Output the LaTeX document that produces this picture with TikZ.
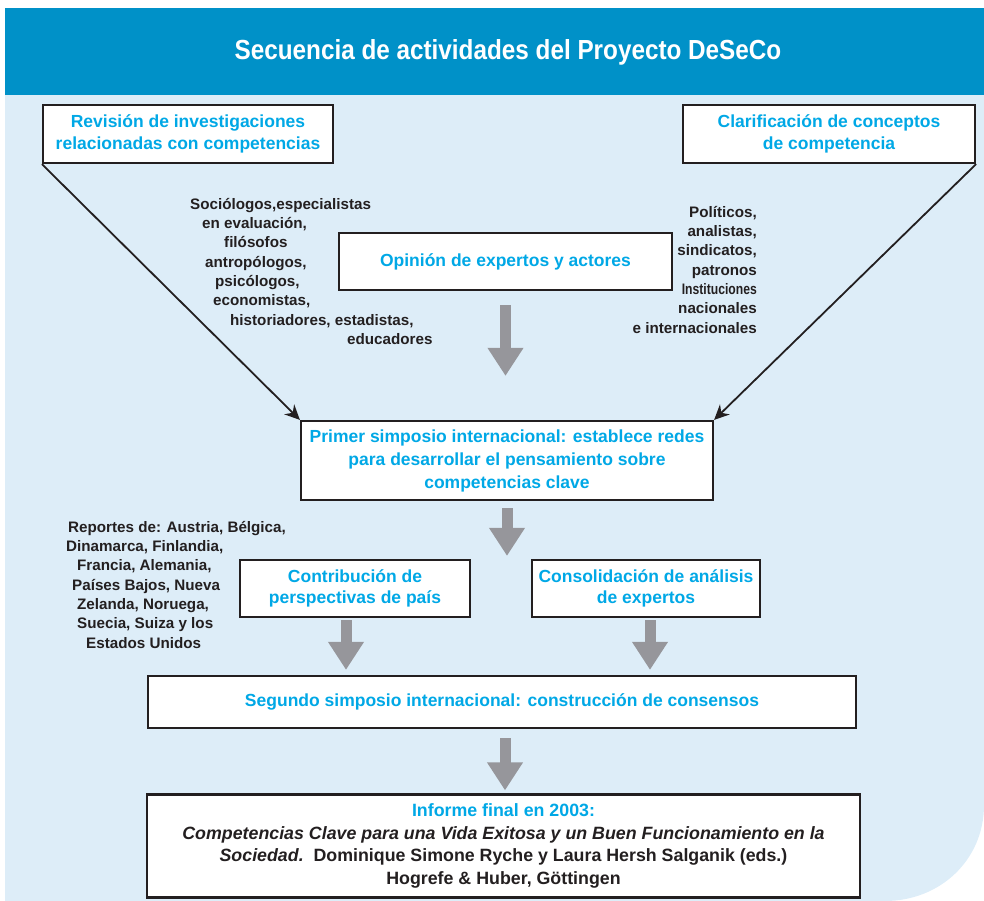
\documentclass[tikz,border=0pt]{standalone}
\usepackage{fontspec}
\setmainfont{Liberation Sans}
\newfontfamily\narrowfont{Liberation Sans}[FakeStretch=0.88]
\usetikzlibrary{arrows.meta, positioning, calc}
\definecolor{bandblue}{RGB}{0,145,200}
\definecolor{paleblue}{RGB}{221,237,248}
\definecolor{textblue}{RGB}{0,168,230}
\definecolor{arrowgray}{RGB}{150,150,155}
\definecolor{ink}{RGB}{35,31,32}

\begin{document}
\begin{tikzpicture}[x=1pt, y=-1pt,
    box/.style={draw=ink, line width=2.2pt, fill=white, inner sep=0pt, align=center,
      text=textblue, font=\bfseries\fontsize{17.5}{21.5}\selectfont},
    note/.style={inner sep=0pt, text=ink, font=\bfseries\fontsize{15.2}{19.3}\selectfont},
    thick arrow/.style={draw=arrowgray, line width=11pt, -{Triangle[width=34pt, length=28pt]}},
    thin arrow/.style={draw=ink, line width=1.8pt, -{Stealth[width=14pt, length=15pt]}}]

  \useasboundingbox (0,0) rectangle (984,901);
  \fill[paleblue] (5,95) -- (984,95) -- (984,805) .. controls (984,860) and (940,901) .. (885,901) -- (5,901) -- cycle;
  \fill[bandblue] (5,8) rectangle (984,95);
  \node[text=white, font=\narrowfont\bfseries\fontsize{27.6}{32}\selectfont] (title) at (508,52) {Secuencia de actividades del Proyecto DeSeCo};

  \node[box, minimum width=290pt, minimum height=58pt] (revision) at (188,134) {Revisión de investigaciones\\relacionadas con competencias};
  \node[box, minimum width=292pt, minimum height=58pt] (clarif) at (829,134) {Clarificación de conceptos\\de competencia};
  \node[box, minimum width=333pt, minimum height=57pt] (opinion) at (505.5,261.5) {Opinión de expertos y actores};
  \node[box, minimum width=412pt, minimum height=79pt, font=\bfseries\fontsize{17.5}{23}\selectfont] (primer) at (507,460.5) {Primer simposio internacional: establece redes\\para desarrollar el pensamiento sobre\\competencias clave};
  \node[box, minimum width=230pt, minimum height=57pt] (contrib) at (355,588.5) {Contribución de\\perspectivas de país};
  \node[box, minimum width=228pt, minimum height=57pt] (consol) at (646,588.5) {Consolidación de análisis\\de expertos};
  \node[box, minimum width=708pt, minimum height=52pt] (segundo) at (502,702) {Segundo simposio internacional: construcción de consensos};
  \node[box, minimum width=713pt, minimum height=103pt, text=ink, font=\bfseries\fontsize{17.8}{22.5}\selectfont] (informe) at (503.5,846) {\textcolor{textblue}{Informe final en 2003:}\\
    \textit{Competencias Clave para una Vida Exitosa y un Buen Funcionamiento en la}\\
    \textit{Sociedad.}\ \ Dominique Simone Ryche y Laura Hersh Salganik (eds.)\\
    Hogrefe \& Huber, Göttingen};

  % who takes part
  \node[note, anchor=north west, align=left] (fields) at (190,198) {Sociólogos,especialistas\\
    \hspace*{12pt}en evaluación,\\ \hspace*{34pt}filósofos\\ \hspace*{15pt}antropólogos,\\
    \hspace*{25pt}psicólogos,\\ \hspace*{23pt}economistas,\\
    \hspace*{40pt}historiadores, estadistas,\\ \hspace*{157pt}educadores};
  \node[note, anchor=north east, align=right] (actores) at (757,206) {Políticos,\\analistas,\\sindicatos,\\patronos\\\scalebox{0.8}[1]{Instituciones}\\nacionales\\e internacionales};
  \node[note, anchor=north west, align=left] (reportes) at (66,521) {\hspace*{2pt}Reportes de: Austria, Bélgica,\\
    Dinamarca, Finlandia,\\ \hspace*{11pt}Francia, Alemania,\\ \hspace*{6pt}Países Bajos, Nueva\\
    \hspace*{11pt}Zelanda, Noruega,\\ \hspace*{11pt}Suecia, Suiza y los\\ \hspace*{20pt}Estados Unidos};

  \draw[thin arrow] (revision.south west) -- (primer.north west);
  \draw[thin arrow] (clarif.south east) -- (primer.north east);

  \coordinate (split) at (primer.south |- contrib.north);
  \draw[thick arrow, shorten <=14pt, shorten >=44pt] (opinion.south) -- (opinion.south |- primer.north);
  \draw[thick arrow, shorten <=7pt, shorten >=3pt] (primer.south) -- (split);
  \draw[thick arrow, shorten <=2pt, shorten >=5pt] ([xshift=-9pt]contrib.south) -- ([xshift=-9pt]contrib.south |- segundo.north);
  \draw[thick arrow, shorten <=2pt, shorten >=5pt] ([xshift=4pt]consol.south) -- ([xshift=4pt]consol.south |- segundo.north);
  \draw[thick arrow, shorten <=9pt, shorten >=3pt] ([xshift=3pt]segundo.south) -- ([xshift=3pt]segundo.south |- informe.north);

\end{tikzpicture}
\end{document}
